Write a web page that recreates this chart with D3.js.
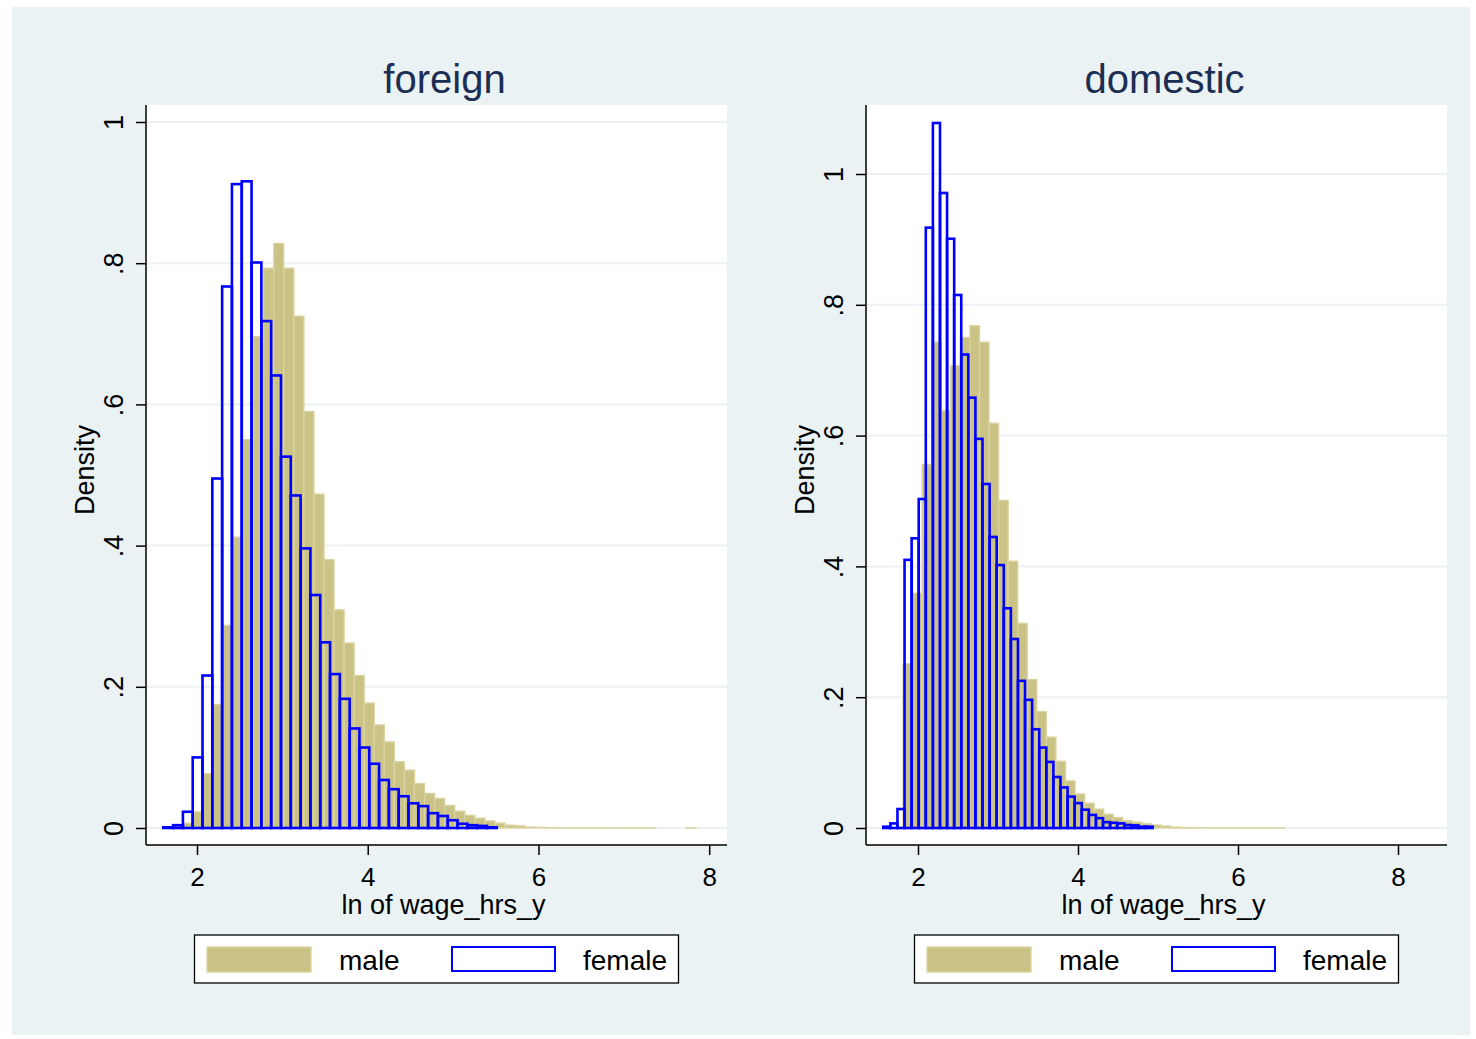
<!DOCTYPE html>
<html>
<head>
<style>
body {margin: 0; background: #ffffff; font-family: "Liberation Sans", Arial, sans-serif;}
</style>
<script src="https://cdnjs.cloudflare.com/ajax/libs/d3/7.8.5/d3.min.js"></script>
</head>
<body>
<div id="chart-container"></div>
<script>
    // histogram densities (one value per bin)
    const panels = ["foreign", "domestic"];
    const groups = ["male", "female"];

    const foreignMale = [0.0005, 0.002, 0.007, 0.023, 0.077, 0.175, 0.287, 0.412, 0.550, 0.696,
        0.793, 0.828, 0.793, 0.725, 0.590, 0.473, 0.380, 0.309, 0.262, 0.216,
        0.177, 0.146, 0.122, 0.094, 0.082, 0.063, 0.049, 0.042, 0.032, 0.024,
        0.018, 0.014, 0.010, 0.007, 0.004, 0.003, 0.0014, 0.001, 0.0007, 0.0004,
        0.0003, 0.0003, 0.0002, 0.0003, 0.0002, 0.0002, 0.0003, 0.0002, 0.0002, 0,
        0, 0, 0.0003];
    const foreignMaleStart = 1.603, foreignMaleWidth = 0.1178;

    const foreignFemale = [0.001, 0.004, 0.023, 0.100, 0.216, 0.495, 0.767, 0.912, 0.916, 0.801,
        0.718, 0.641, 0.526, 0.471, 0.396, 0.330, 0.263, 0.218, 0.183, 0.141,
        0.114, 0.091, 0.068, 0.055, 0.045, 0.035, 0.031, 0.021, 0.017, 0.011,
        0.006, 0.004, 0.003, 0.001];
    const foreignFemaleStart = 1.605, foreignFemaleWidth = 0.1149;

    const domesticMale = [0.251, 0.359, 0.556, 0.743, 0.638, 0.707, 0.750, 0.768, 0.743, 0.619,
        0.501, 0.408, 0.313, 0.227, 0.178, 0.139, 0.102, 0.072, 0.052, 0.038,
        0.029, 0.021, 0.016, 0.011, 0.009, 0.0066, 0.0046, 0.003, 0.0015, 0.0008,
        0.0006, 0.0004, 0.0003, 0.0003, 0.0002, 0.0003, 0.0002, 0.0002, 0.0001, 0.0002];
    const domesticMaleStart = 1.8125, domesticMaleWidth = 0.1195;

    const domesticFemale = [0.002, 0.007, 0.029, 0.410, 0.443, 0.503, 0.918, 1.078, 0.971, 0.901,
        0.815, 0.724, 0.658, 0.595, 0.526, 0.445, 0.402, 0.336, 0.289, 0.225,
        0.196, 0.151, 0.123, 0.101, 0.078, 0.062, 0.048, 0.038, 0.028, 0.020,
        0.015, 0.009, 0.008, 0.007, 0.0046, 0.004, 0.002, 0.002];
    const domesticFemaleStart = 1.566, domesticFemaleWidth = 0.0886;

    const xTicks = [2, 4, 6, 8];
    const yTicks = [0, 0.2, 0.4, 0.6, 0.8, 1];
    const yTickLabels = ["0", ".2", ".4", ".6", ".8", "1"];
    const xTitle = "ln of wage_hrs_y";
    const yTitle = "Density";

    const containerWidth = 1476;
    const containerHeight = 1039;
    const maleFill = "#cbc385";
    const maleEdge = "#dad4a2";
    const femaleLine = "#0000ff";
    const titleColor = "#1c2e54";
    const gridColor = "#eaf2f3";

    const svg = d3.select("#chart-container")
        .append("svg")
        .attr("width", containerWidth)
        .attr("height", containerHeight);

    // outer graph region
    svg.append("rect")
        .attr("x", 12).attr("y", 7)
        .attr("width", 1458).attr("height", 1028)
        .attr("fill", "#eaf2f3");

    function bins(values, start, width) {
        return values.map((v, i) => ({x0: start + i * width, x1: start + (i + 1) * width, v: v}))
            .filter(d => d.v > 0);
    }

    function drawPanel(opts) {
        const g = svg.append("g").attr("transform", `translate(${opts.dx},0)`);
        const plot = {left: 146, right: 727, top: 105, bottom: 845};

        const x = d3.scaleLinear().domain([2, 8]).range(opts.xRange);
        const y = d3.scaleLinear().domain([0, 1]).range([828, opts.yOne]);

        g.append("rect")
            .attr("x", plot.left).attr("y", plot.top)
            .attr("width", plot.right - plot.left).attr("height", plot.bottom - plot.top)
            .attr("fill", "#ffffff");

        // gridlines
        g.append("g").selectAll("line")
            .data(yTicks)
            .join("line")
                .attr("x1", plot.left).attr("x2", plot.right)
                .attr("y1", d => y(d)).attr("y2", d => y(d))
                .attr("stroke", gridColor)
                .attr("stroke-width", 2);

        // male bars
        g.append("g").selectAll("rect")
            .data(bins(opts.male, opts.maleStart, opts.maleWidth))
            .join("rect")
                .attr("x", d => x(d.x0))
                .attr("width", d => x(d.x1) - x(d.x0))
                .attr("y", d => y(d.v))
                .attr("height", d => y(0) - y(d.v))
                .attr("fill", maleFill)
                .attr("stroke", maleEdge)
                .attr("stroke-width", 1.3);

        // female bars, outline only
        g.append("g").selectAll("rect")
            .data(bins(opts.female, opts.femaleStart, opts.femaleWidth))
            .join("rect")
                .attr("x", d => x(d.x0))
                .attr("width", d => x(d.x1) - x(d.x0))
                .attr("y", d => y(d.v))
                .attr("height", d => y(0) - y(d.v))
                .attr("fill", "none")
                .attr("stroke", femaleLine)
                .attr("stroke-width", 2.6);

        // axes
        const yAxis = g.append("g")
            .attr("transform", `translate(${plot.left},0)`)
            .call(d3.axisLeft(y).tickValues(yTicks).tickSize(10).tickPadding(13)
                .tickFormat((d, i) => yTickLabels[i]));
        yAxis.select(".domain").attr("d", `M0,${plot.top}V${plot.bottom}`)
            .attr("stroke", "#000").attr("stroke-width", 1.5);
        yAxis.selectAll(".tick line").attr("stroke-width", 1.5);
        yAxis.selectAll(".tick text")
            .attr("font-size", 27)
            .attr("font-family", "Liberation Sans, Arial, sans-serif")
            .attr("fill", "#000")
            .attr("text-anchor", "middle")
            .attr("dy", 0)
            .attr("x", 0)
            .attr("transform", "translate(-23,0) rotate(-90)");

        const xAxis = g.append("g")
            .attr("transform", `translate(0,${plot.bottom})`)
            .call(d3.axisBottom(x).tickValues(xTicks).tickSize(10).tickPadding(10)
                .tickFormat(d3.format("d")));
        xAxis.select(".domain").attr("d", `M${plot.left},0H${plot.right}`)
            .attr("stroke", "#000").attr("stroke-width", 1.5);
        xAxis.selectAll(".tick line").attr("stroke-width", 1.5);
        xAxis.selectAll(".tick text")
            .attr("font-size", 26)
            .attr("font-family", "Liberation Sans, Arial, sans-serif")
            .attr("fill", "#000")
            .attr("dy", 0)
            .attr("y", 41);

        g.append("text")
            .attr("x", (plot.left + plot.right) / 2 + 7)
            .attr("y", 914)
            .attr("text-anchor", "middle")
            .attr("font-size", 27)
            .text(xTitle);

        g.append("text")
            .attr("transform", `translate(94,470) rotate(-90)`)
            .attr("text-anchor", "middle")
            .attr("font-size", 27)
            .text(yTitle);

        g.append("text")
            .attr("x", 444.5)
            .attr("y", 93)
            .attr("text-anchor", "middle")
            .attr("font-size", 40)
            .attr("fill", titleColor)
            .text(opts.title);

        // legend
        const lg = g.append("g");
        lg.append("rect")
            .attr("x", 194.5).attr("y", 935)
            .attr("width", 484).attr("height", 48)
            .attr("fill", "#ffffff")
            .attr("stroke", "#000").attr("stroke-width", 1.3);
        lg.append("rect")
            .attr("x", 207).attr("y", 947)
            .attr("width", 104).attr("height", 25)
            .attr("fill", maleFill).attr("stroke", maleEdge).attr("stroke-width", 1.3);
        lg.append("rect")
            .attr("x", 452).attr("y", 947)
            .attr("width", 103).attr("height", 24)
            .attr("fill", "#ffffff").attr("stroke", femaleLine).attr("stroke-width", 2);
        lg.selectAll("text.lab")
            .data(groups)
            .join("text")
                .attr("class", "lab")
                .attr("x", (d, i) => i === 0 ? 339 : 583)
                .attr("y", 970)
                .attr("font-size", 28)
                .text(d => d);
    }

    drawPanel({dx: 0, title: panels[0], xRange: [197, 709.2], yOne: 122,
        male: foreignMale, maleStart: foreignMaleStart, maleWidth: foreignMaleWidth,
        female: foreignFemale, femaleStart: foreignFemaleStart, femaleWidth: foreignFemaleWidth});
    drawPanel({dx: 720, title: panels[1], xRange: [198, 678], yOne: 174,
        male: domesticMale, maleStart: domesticMaleStart, maleWidth: domesticMaleWidth,
        female: domesticFemale, femaleStart: domesticFemaleStart, femaleWidth: domesticFemaleWidth});
</script>
</body>
</html>
